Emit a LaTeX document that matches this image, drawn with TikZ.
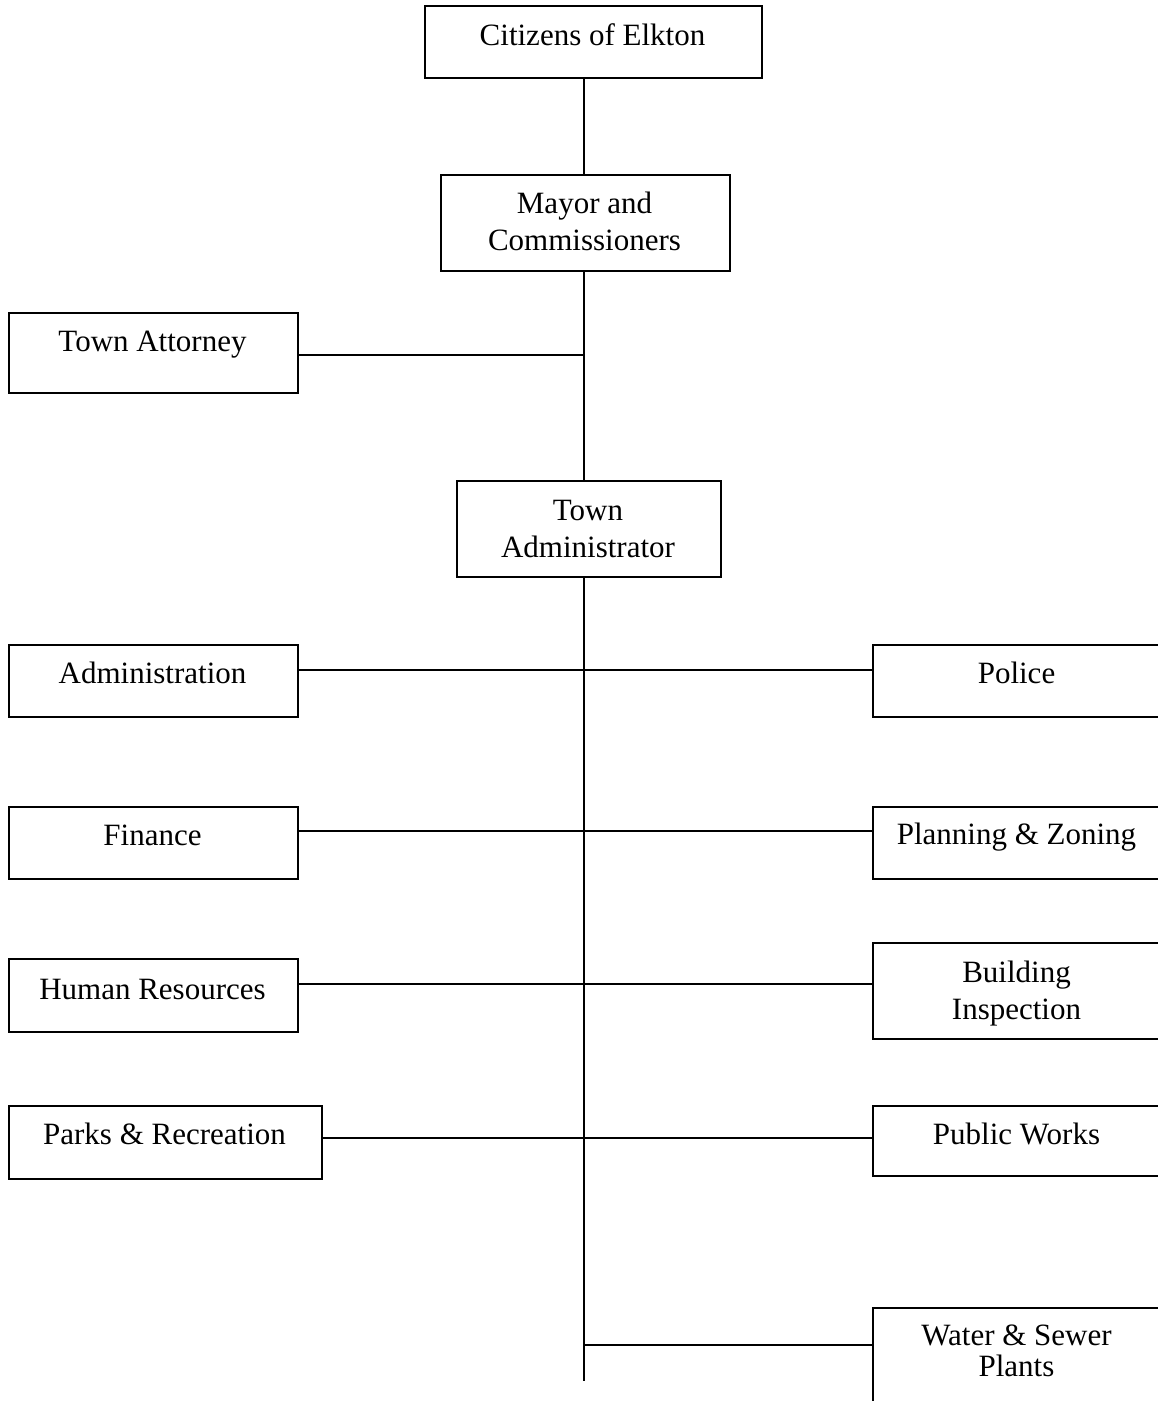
\documentclass[tikz,border=0pt]{standalone}
\usepackage{fontspec}
\setmainfont{Liberation Serif}
\begin{document}
\begin{tikzpicture}[x=1pt,y=-1pt,
  box/.style={draw=black,line width=1.6pt,rectangle,inner sep=0pt,anchor=north west},
  txt/.style={anchor=base,inner sep=0pt,font=\fontsize{31}{36}\selectfont},
  conn/.style={draw=black,line width=1.6pt}]
\useasboundingbox (0,0) rectangle (1158,1401);
\clip (0,0) rectangle (1158,1401);
% boxes
\node[box,minimum width=337pt,minimum height=72pt] (cit) at (424,5) {};
\node[box,minimum width=289pt,minimum height=96pt] (may) at (440,174) {};
\node[box,minimum width=289pt,minimum height=80pt] (att) at (8,312) {};
\node[box,minimum width=264pt,minimum height=96pt] (adm) at (456,480) {};
\node[box,minimum width=289pt,minimum height=72pt] (admn) at (8,644) {};
\node[box,minimum width=289pt,minimum height=72pt] (fin) at (8,806) {};
\node[box,minimum width=289pt,minimum height=73pt] (hr) at (8,958) {};
\node[box,minimum width=313pt,minimum height=73pt] (park) at (8,1105) {};
\node[box,minimum width=289pt,minimum height=72pt] (pol) at (872,644) {};
\node[box,minimum width=289pt,minimum height=72pt] (plan) at (872,806) {};
\node[box,minimum width=289pt,minimum height=96pt] (bld) at (872,942) {};
\node[box,minimum width=289pt,minimum height=70pt] (pw) at (872,1105) {};
\node[box,minimum width=289pt,minimum height=120pt] (ws) at (872,1307) {};
% texts
\node[txt] (tcit) at (592.5,45) {Citizens of Elkton};
\node[txt] (tmay1) at (584.5,213) {Mayor and};
\node[txt] (tmay2) at (584.5,250) {Commissioners};
\node[txt] (tatt) at (152.5,351) {Town Attorney};
\node[txt] (tadm1) at (588,520) {Town};
\node[txt] (tadm2) at (588,557) {Administrator};
\node[txt] (tadmn) at (152.5,683) {Administration};
\node[txt] (tfin) at (152.5,845) {Finance};
\node[txt] (thr) at (152.5,999) {Human Resources};
\node[txt] (tpark) at (164.5,1144) {Parks \& Recreation};
\node[txt] (tpol) at (1016.5,683) {Police};
\node[txt] (tplan) at (1016.5,844) {Planning \& Zoning};
\node[txt] (tbld1) at (1016.5,982) {Building};
\node[txt] (tbld2) at (1016.5,1019) {Inspection};
\node[txt] (tpw) at (1016.5,1144) {Public Works};
\node[txt] (tws1) at (1016.5,1345) {Water \& Sewer};
\node[txt] (tws2) at (1016.5,1376) {Plants};
% junction coordinates
\coordinate (tk) at (584,0);
\coordinate (jatt) at (584,355);
\coordinate (j1) at (584,670);
\coordinate (j2) at (584,831);
\coordinate (j3) at (584,984);
\coordinate (j4) at (584,1138);
\coordinate (j5) at (584,1345);
\coordinate (tend) at (584,1381);
% connectors
\draw[conn] (cit.south -| tk) -- (may.north -| tk);
\draw[conn] (may.south -| tk) -- (adm.north -| tk);
\draw[conn] (att.east |- jatt) -- (jatt);
\draw[conn] (adm.south -| tk) -- (tend);
\draw[conn] (admn.east |- j1) -- (pol.west |- j1);
\draw[conn] (fin.east |- j2) -- (plan.west |- j2);
\draw[conn] (hr.east |- j3) -- (bld.west |- j3);
\draw[conn] (park.east |- j4) -- (pw.west |- j4);
\draw[conn] (j5) -- (ws.west |- j5);
\end{tikzpicture}
\end{document}
